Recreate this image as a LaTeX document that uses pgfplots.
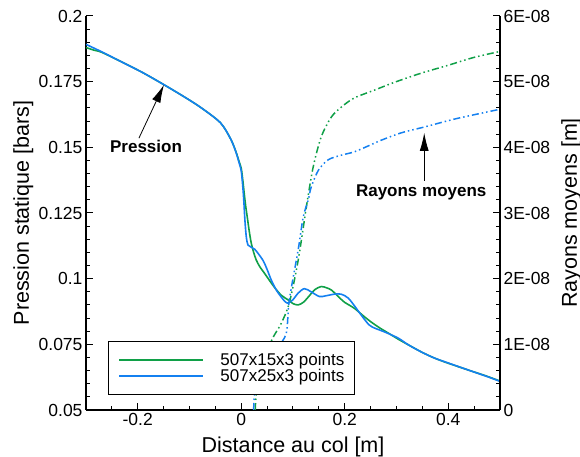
\documentclass[border=0pt]{standalone}
\usepackage{pgfplots}
\pgfplotsset{compat=1.18}
\usepackage{pgfplotstable}
\usetikzlibrary{arrows.meta}
\usepackage{fontspec}
\setmainfont{Liberation Sans}
\definecolor{cgreen}{RGB}{16,160,72}
\definecolor{cblue}{RGB}{20,128,240}

\pgfplotstableread{
x p
-0.300 0.1892
-0.270 0.1864
-0.232 0.1826
-0.190 0.1784
-0.149 0.1738
-0.110 0.1692
-0.077 0.1650
-0.040 0.1593
-0.020 0.1530
-0.010 0.1480
-0.004 0.1440
0.000 0.1410
0.003 0.1350
0.005 0.1295
0.007 0.1225
0.0097 0.1160
0.013 0.1128
0.019 0.1120
0.026 0.1112
0.033 0.1095
0.0425 0.1068
0.050 0.1035
0.058 0.0995
0.0676 0.0957
0.0773 0.0930
0.0850 0.0912
0.0908 0.0907
0.1000 0.0920
0.1100 0.0945
0.1220 0.0962
0.1350 0.0950
0.1510 0.0932
0.1640 0.0935
0.1800 0.0941
0.1930 0.0941
0.2068 0.0926
0.2220 0.0888
0.2300 0.0866
0.2470 0.0824
0.2600 0.0810
0.2760 0.0798
0.3030 0.0774
0.3230 0.0748
0.3480 0.0721
0.3730 0.0698
0.4000 0.0679
0.4390 0.0652
0.4770 0.0626
0.5000 0.0609
}\pblue

\pgfplotstableread{
x p
-0.300 0.1880
-0.285 0.1870
-0.270 0.1862
-0.232 0.1826
-0.190 0.1784
-0.149 0.1738
-0.110 0.1692
-0.077 0.1650
-0.040 0.1593
-0.020 0.1530
-0.010 0.1482
-0.004 0.1445
0.000 0.1420
0.003 0.1375
0.006 0.1320
0.009 0.1270
0.0116 0.1235
0.0155 0.1180
0.0193 0.1136
0.024 0.1100
0.029 0.1071
0.036 0.1045
0.0444 0.1022
0.055 0.0992
0.0638 0.0968
0.0773 0.0937
0.0908 0.0919
0.100 0.0905
0.110 0.0900
0.120 0.0910
0.1295 0.0930
0.142 0.0958
0.1546 0.0970
0.165 0.0965
0.174 0.0957
0.186 0.0935
0.199 0.0911
0.218 0.0888
0.235 0.0860
0.251 0.0835
0.268 0.0812
0.284 0.0793
0.303 0.0770
0.323 0.0748
0.348 0.0721
0.373 0.0698
0.400 0.0678
0.439 0.0652
0.477 0.0627
0.500 0.0610
}\pgreen

\pgfplotstableread{
x r
0.027 0
0.029 0.25e-8
0.035 0.55e-8
0.045 0.82e-8
0.0618 1.11e-8
0.0773 1.32e-8
0.0928 1.63e-8
0.110 2.28e-8
0.127 3.15e-8
0.139 3.70e-8
0.1546 4.16e-8
0.174 4.46e-8
0.193 4.61e-8
0.218 4.75e-8
0.257 4.87e-8
0.296 4.99e-8
0.348 5.13e-8
0.400 5.25e-8
0.450 5.37e-8
0.500 5.46e-8
}\rgreen

\pgfplotstableread{
x r
0.024 0
0.0255 0.25e-8
0.032 0.5e-8
0.050 0.75e-8
0.070 0.95e-8
0.087 1.17e-8
0.0928 1.67e-8
0.110 2.44e-8
0.1198 2.94e-8
0.1295 3.20e-8
0.135 3.39e-8
0.149 3.65e-8
0.168 3.81e-8
0.193 3.88e-8
0.218 3.93e-8
0.245 4.02e-8
0.271 4.11e-8
0.309 4.22e-8
0.354 4.31e-8
0.412 4.43e-8
0.464 4.52e-8
0.500 4.58e-8
}\rblue

\begin{document}
\begin{tikzpicture}
\pgfplotsset{
  common/.style={
    at={(0pt,0pt)}, anchor=south west,
    scale only axis, width=414pt, height=394pt,
    xmin=-0.3, xmax=0.5,
    axis line style={line width=1.2pt, -},
    tick style={line width=1pt, black},
    major tick length=7pt, minor tick length=4pt,
    tick align=inside,
    /pgf/number format/assume math mode=true,
    tick label style={font=\fontsize{17.5}{21}\selectfont},
    label style={font=\fontsize{21.5}{24}\selectfont},
  }
}
\begin{axis}[common,
  axis x line*=bottom, axis y line*=left,
  ymin=0.05, ymax=0.2,
  ytick={0.05,0.075,0.1,0.125,0.15,0.175,0.2},
  yticklabels={0.05,0.075,0.1,0.125,0.15,0.175,0.2},
  minor y tick num=4,
  xtick={-0.2,0,0.2,0.4}, xticklabels={-0.2,0,0.2,0.4},
  minor xtick={-0.25,-0.15,-0.1,-0.05,0.05,0.1,0.15,0.25,0.3,0.35,0.45},
  xlabel={Distance au col [m]},
  ylabel={Pression statique [bars]},
  xlabel style={at={([yshift=-42.6pt]axis description cs:0.5,0)}, anchor=base},
  ylabel style={at={([xshift=-57pt]axis description cs:0,0.5)}, anchor=base, rotate=0},
]
\addplot[cgreen, line width=1.6pt, smooth] table[x=x,y=p] {\pgreen};
\addplot[cblue, line width=1.6pt, smooth] table[x=x,y=p] {\pblue};
\node[font=\bfseries\fontsize{17}{17}\selectfont] at (axis cs:-0.184,0.1502) {Pression};
\draw[line width=0.8pt, -{Latex[length=18pt,width=9pt]}] (axis cs:-0.1977,0.1535) -- (axis cs:-0.1494,0.1738);
\node[font=\bfseries\fontsize{17}{17}\selectfont] at (axis cs:0.3478,0.1330) {Rayons moyens};
\draw[line width=0.8pt, -{Latex[length=18pt,width=9pt]}] (axis cs:0.3536,0.1372) -- (axis cs:0.3536,0.1555);
\end{axis}
\begin{axis}[common,
  axis x line=none, axis y line*=right,
  ymin=0, ymax=6e-8,
  ytick={0,1e-8,2e-8,3e-8,4e-8,5e-8,6e-8},
  yticklabels={0,1E-08,2E-08,3E-08,4E-08,5E-08,6E-08},
  scaled y ticks=false,
  minor y tick num=4,
  ylabel={Rayons moyens [m]},
  ylabel style={at={([xshift=77pt]axis description cs:1,0.5)}, anchor=base, rotate=0},
  legend style={at={(axis description cs:0.0531,0.0381)}, anchor=south west,
    draw=black, line width=0.8pt, fill=white,
    font=\fontsize{17}{19}\selectfont,
    inner xsep=10pt, inner ysep=11pt, row sep=1.5pt, column sep=16pt,
    nodes={inner sep=0.5pt}},
  legend cell align=left,
  legend image code/.code={\draw[#1] (0pt,0pt) -- (84pt,0pt);},
  legend image post style={line width=1.6pt},
]
\addplot[cgreen, line width=1.5pt, smooth, dash pattern=on 7pt off 3pt on 1.5pt off 3pt on 1.5pt off 3pt, forget plot] table[x=x,y=r] {\rgreen};
\addplot[cblue, line width=1.5pt, smooth, dash pattern=on 7pt off 3pt on 1.5pt off 3pt on 1.5pt off 3pt, forget plot] table[x=x,y=r] {\rblue};
\addlegendimage{cgreen, line width=1.6pt}
\addlegendentry{507x15x3 points}
\addlegendimage{cblue, line width=1.6pt}
\addlegendentry{507x25x3 points}
\end{axis}
\pgfresetboundingbox
\useasboundingbox (-86pt,-47pt) rectangle (494pt,410pt);
\end{tikzpicture}
\end{document}
